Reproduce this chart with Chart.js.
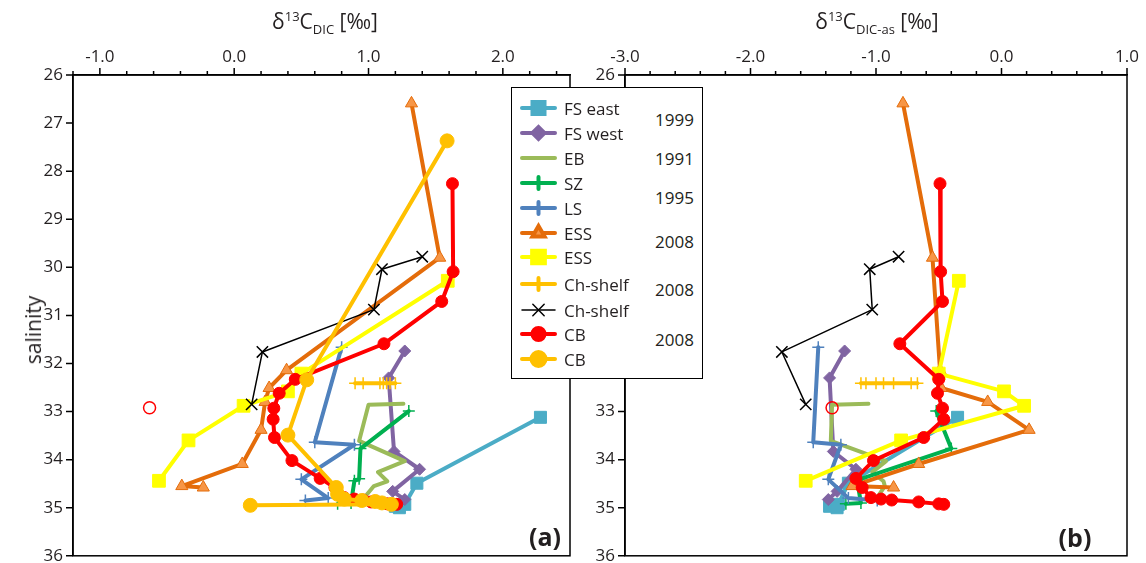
<!DOCTYPE html>
<html>
<head>
<meta charset="utf-8">
<script src="https://cdn.jsdelivr.net/npm/chart.js@4.4.1/dist/chart.umd.min.js"></script>
<style>
  body { margin: 0; background: #fff; width: 1146px; height: 563px; overflow: hidden; position: relative; font-family: 'Open Sans', sans-serif; color: #231f20; }
  canvas { position: absolute; top: 0; }
  #chartA { left: 0; }
  #chartB { left: 580px; }
  .xtitle { position: absolute; top: 7px; font-size: 21px; transform: translateX(-50%); white-space: nowrap; }
  .xtitle sup, .xtitle sub { font-size: 13px; }
  .ytitle { position: absolute; left: 33px; top: 330px; font-size: 21px; transform: translate(-50%, -50%) rotate(-90deg); }
  .tag { position: absolute; font-size: 25px; font-weight: bold; transform: translate(-50%, -50%); }
  #legend { position: absolute; left: 511px; top: 87px; width: 190px; height: 290px; border: 1.5px solid #000; background: #fff; z-index: 5; }
  #legend canvas { left: 0; top: 0; }
  .lab { position: absolute; left: 52px; font-size: 17px; transform: translateY(-50%); white-space: nowrap; }
  .yr { position: absolute; right: 8px; font-size: 17px; transform: translateY(-50%); }
</style>
</head>
<body>
<canvas id="chartA" width="580" height="570"></canvas>
<canvas id="chartB" width="566" height="570"></canvas>
<div class="xtitle" style="left:325px">&delta;<sup>13</sup>C<sub>DIC</sub> [‰]</div>
<div class="xtitle" style="left:877px">&delta;<sup>13</sup>C<sub>DIC-as</sub> [‰]</div>
<div class="ytitle">salinity</div>
<div class="tag" style="left:545px;top:536px">(a)</div>
<div class="tag" style="left:1075px;top:537px">(b)</div>
<div id="legend"><canvas id="legendSym" width="60" height="290"></canvas></div>

<script>
// salinity (y) and d13C values for panel (a) DIC and panel (b) DIC-as
const salFSeast = [33.12, 34.49, 34.93, 34.97, 35.0];
const dicFSeast = [2.28, 1.36, 1.27, 1.20, 1.23];
const asFSeast  = [-0.35, -1.22, -1.30, -1.37, -1.31];

const salFSwest = [31.74, 32.30, 33.83, 34.20, 34.66, 34.83];
const dicFSwest = [1.27, 1.15, 1.19, 1.38, 1.18, 1.27];
const asFSwest  = [-1.25, -1.37, -1.34, -1.16, -1.31, -1.38];

const salEB = [32.84, 32.86, 33.61, 34.03, 34.26, 34.45, 34.55, 34.75];
const dicEB = [1.26, 1.00, 0.93, 1.27, 1.07, 1.14, 1.04, 0.98];
const asEB  = [-1.06, -1.35, -1.36, -0.92, -1.03, -0.94, -0.93, -0.98];

const salSZ = [32.99, 33.77, 34.40, 34.44, 34.90, 34.92];
const dicSZ = [1.30, 0.94, 0.93, 0.895, 0.87, 0.77];
const asSZ  = [-0.52, -0.40, -1.12, -1.15, -1.12, -1.24];

const salLS = [31.66, 33.64, 33.69, 34.41, 34.80, 34.85];
const dicLS = [0.80, 0.60, 0.895, 0.50, 0.70, 0.53];
const asLS  = [-1.46, -1.50, -1.28, -1.38, -1.22, -0.99];

const salESStri = [26.59, 29.80, 32.14, 32.51, 32.80, 33.38, 34.09, 34.55, 34.58];
const dicESStri = [1.32, 1.53, 0.39, 0.26, 0.23, 0.20, 0.06, -0.39, -0.23];
const asESStri  = [-0.785, -0.55, -0.49, -0.48, -0.11, 0.22, -0.66, -1.19, -0.86];

const salESSsq = [30.28, 32.21, 32.58, 32.88, 33.60, 34.44];
const dicESSsq = [1.59, 0.50, 0.40, 0.07, -0.34, -0.56];
const asESSsq  = [-0.34, -0.50, 0.02, 0.18, -0.80, -1.56];

const salChPlus = [32.41, 32.41, 32.41, 32.41, 32.41, 32.41, 32.41];
const dicChPlus = [0.90, 0.96, 1.085, 1.11, 1.135, 1.16, 1.20];
const asChPlus  = [-1.12, -1.08, -1.00, -0.94, -0.86, -0.72, -0.67];

const salChX = [29.78, 30.04, 30.88, 31.76, 32.85];
const dicChX = [1.40, 1.10, 1.04, 0.21, 0.13];
const asChX  = [-0.82, -1.05, -1.03, -1.75, -1.56];

const salCBred = [28.26, 30.09, 30.71, 31.59, 32.33, 32.62, 32.93, 33.16, 33.54, 34.02, 34.39, 34.58, 34.79, 34.82, 34.84, 34.88, 34.92, 34.93];
const dicCBred = [1.625, 1.63, 1.545, 1.115, 0.455, 0.335, 0.295, 0.29, 0.30, 0.43, 0.64, 0.75, 0.82, 0.895, 0.96, 1.02, 1.14, 1.21];
const asCBred  = [-0.49, -0.485, -0.47, -0.81, -0.50, -0.51, -0.47, -0.46, -0.62, -1.02, -1.16, -1.11, -1.04, -0.96, -0.875, -0.66, -0.50, -0.46];

const salCBorange = [27.37, 32.34, 33.49, 34.58, 34.72, 34.82, 34.85, 34.87, 34.90, 34.93, 34.95];
const dicCBorange = [1.585, 0.54, 0.40, 0.76, 0.77, 0.82, 0.95, 1.05, 1.10, 1.17, 0.12];

// single open red circle
const salOpen = [32.92];
const dicOpen = [-0.63];
const asOpen  = [-1.35];

const years = [['1999', 119], ['1991', 158], ['1995', 197], ['2008', 241], ['2008', 289], ['2008', 339]];

Chart.defaults.font.family = "'Open Sans', sans-serif";
Chart.defaults.color = '#231f20';

const series = [
  { label: 'FS east',  sal: salFSeast,   a: dicFSeast,   b: asFSeast,   color: '#4bacc6', fill: '#4bacc6', style: 'rect',     r: 8.5, w: 4 },
  { label: 'FS west',  sal: salFSwest,   a: dicFSwest,   b: asFSwest,   color: '#8064a2', fill: '#8064a2', style: 'rectRot',  r: 6,   w: 4 },
  { label: 'EB',       sal: salEB,       a: dicEB,       b: asEB,       color: '#9bbb59', fill: '#9bbb59', style: 'circle',   r: 0,   w: 4 },
  { label: 'SZ',       sal: salSZ,       a: dicSZ,       b: asSZ,       color: '#00b050', fill: '#00b050', style: 'cross',    r: 6,   w: 4, pbw: 1.5 },
  { label: 'LS',       sal: salLS,       a: dicLS,       b: asLS,       color: '#4f81bd', fill: '#4f81bd', style: 'cross',    r: 6,   w: 4, pbw: 1.5 },
  { label: 'ESS',      sal: salESStri,   a: dicESStri,   b: asESStri,   color: '#e46c0a', fill: '#f79646', style: 'triangle', r: 7,   w: 4, pbc: '#e46c0a' },
  { label: 'ESS',      sal: salESSsq,    a: dicESSsq,    b: asESSsq,    color: '#ffff00', fill: '#ffff00', style: 'rect',     r: 9,   w: 4 },
  { label: 'Ch-shelf', sal: salChPlus,   a: dicChPlus,   b: asChPlus,   color: '#ffc000', fill: '#ffc000', style: 'cross',    r: 6,   w: 4, pbw: 1.5 },
  { label: 'Ch-shelf', sal: salChX,      a: dicChX,      b: asChX,      color: '#000000', fill: '#000000', style: 'crossRot', r: 8,   w: 1.5, pbw: 1.5 },
  { label: 'CB',       sal: salCBred,    a: dicCBred,    b: asCBred,    color: '#ff0000', fill: '#ff0000', style: 'circle',   r: 6,   w: 4 },
  { label: 'CB',       sal: salCBorange, a: dicCBorange, b: null,       color: '#ffc000', fill: '#ffc000', style: 'circle',   r: 7,   w: 4 }
];

function makeData(key) {
  const sets = [];
  series.forEach((s, i) => {
    if (!s[key]) return;
    sets.push({
      label: s.label,
      data: s.sal.map((y, j) => ({ x: s[key][j], y: y })),
      showLine: true,
      borderColor: s.color,
      backgroundColor: s.fill,
      borderWidth: s.w,
      borderJoinStyle: 'round',
      borderCapStyle: 'round',
      pointStyle: s.style,
      pointRadius: s.r,
      pointBorderColor: s.pbc || s.color,
      pointBackgroundColor: s.fill,
      pointBorderWidth: s.pbw || 1,
      order: 20 - i
    });
  });
  sets.push({
    label: 'open',
    data: salOpen.map((y, j) => ({ x: (key === 'a' ? dicOpen : asOpen)[j], y: y })),
    showLine: false,
    pointStyle: 'circle',
    pointRadius: 6,
    pointBorderColor: '#ff0000',
    pointBackgroundColor: 'rgba(255,255,255,0)',
    pointBorderWidth: 1.5,
    order: 0
  });
  return sets;
}

const isWhole = v => Math.abs(v - Math.round(v)) < 1e-6;

// plot frame plus outward tick marks (longer on whole numbers)
const frame = {
  id: 'frame',
  afterDraw(chart) {
    const a = chart.chartArea, ctx = chart.ctx;
    const xs = chart.scales.x, ys = chart.scales.y;
    ctx.save();
    ctx.strokeStyle = '#000';
    ctx.lineWidth = 1.5;
    ctx.strokeRect(a.left, a.top, a.right - a.left, a.bottom - a.top);
    ctx.lineWidth = 1.5;
    ctx.beginPath();
    for (let k = 0; k < xs.ticks.length; k++) {
      const v = xs.ticks[k].value;
      const px = xs.getPixelForValue(v);
      ctx.moveTo(px, a.top);
      ctx.lineTo(px, a.top - (isWhole(v) ? 7 : 4));
    }
    for (let k = 0; k < ys.ticks.length; k++) {
      const py = ys.getPixelForValue(ys.ticks[k].value);
      ctx.moveTo(a.left, py);
      ctx.lineTo(a.left - 7, py);
    }
    ctx.stroke();
    ctx.restore();
  }
};

// minor tick every 0.2, labelled on whole numbers
function stepTicks(s) {
  const t = [];
  for (let k = 0; ; k++) {
    const v = Math.round((s.min + k * 0.2) * 1000) / 1000;
    if (v > s.max + 1e-9) break;
    t.push({ value: v });
  }
  s.ticks = t;
}

function makeChart(id, key, xmin, xmax, yWidth, padRight) {
  return new Chart(document.getElementById(id), {
    type: 'scatter',
    data: { datasets: makeData(key) },
    plugins: [frame],
    options: {
      responsive: false,
      animation: false,
      layout: { padding: { left: 0, top: 0, right: padRight, bottom: 12 } },
      plugins: { legend: { display: false }, tooltip: { enabled: false } },
      scales: {
        x: {
          type: 'linear', position: 'top', min: xmin, max: xmax,
          afterBuildTicks: stepTicks,
          afterFit: s => { s.height = 75; },
          border: { display: true, color: '#000', width: 1.5 },
          grid: { drawOnChartArea: false, drawTicks: true, tickLength: 6, color: 'rgba(0,0,0,0)' },
          ticks: {
            autoSkip: false, maxRotation: 0, padding: 2,
            font: { size: 17 }, color: '#231f20',
            callback: v => isWhole(v) ? v.toFixed(1) : ''
          }
        },
        y: {
          type: 'linear', reverse: true, min: 26, max: 36,
          afterFit: s => { s.width = yWidth; },
          border: { display: true, color: '#000', width: 1.5 },
          grid: { drawOnChartArea: false, drawTicks: true, tickLength: 6, color: 'rgba(0,0,0,0)' },
          ticks: { stepSize: 1, padding: 4, font: { size: 17 }, color: '#231f20' }
        }
      }
    }
  });
}

makeChart('chartA', 'a', -1.2, 2.5, 73, 4);
makeChart('chartB', 'b', -3, 1, 45, 19);

// legend
const legend = document.getElementById('legend');
const rowY = [20, 45, 70, 95, 120, 145, 169, 196, 222, 246, 271];
const sctx = document.getElementById('legendSym').getContext('2d');
series.forEach((s, i) => {
  const y = rowY[i];
  sctx.save();
  sctx.strokeStyle = s.color;
  sctx.lineWidth = s.w;
  sctx.lineCap = 'round';
  sctx.beginPath();
  sctx.moveTo(10, y);
  sctx.lineTo(43, y);
  sctx.stroke();
  if (s.r > 0) {
    sctx.fillStyle = s.fill;
    sctx.strokeStyle = s.pbc || s.color;
    Chart.helpers.drawPoint(sctx, { pointStyle: s.style, radius: s.r, borderWidth: s.pbw || 1, rotation: 0 }, 26.5, y);
  }
  sctx.restore();
  const lab = document.createElement('div');
  lab.className = 'lab';
  lab.style.top = y + 'px';
  lab.textContent = s.label;
  legend.appendChild(lab);
});
years.forEach(([t, y]) => {
  const d = document.createElement('div');
  d.className = 'yr';
  d.style.top = (y - 88) + 'px';
  d.textContent = t;
  legend.appendChild(d);
});
</script>
</body>
</html>
